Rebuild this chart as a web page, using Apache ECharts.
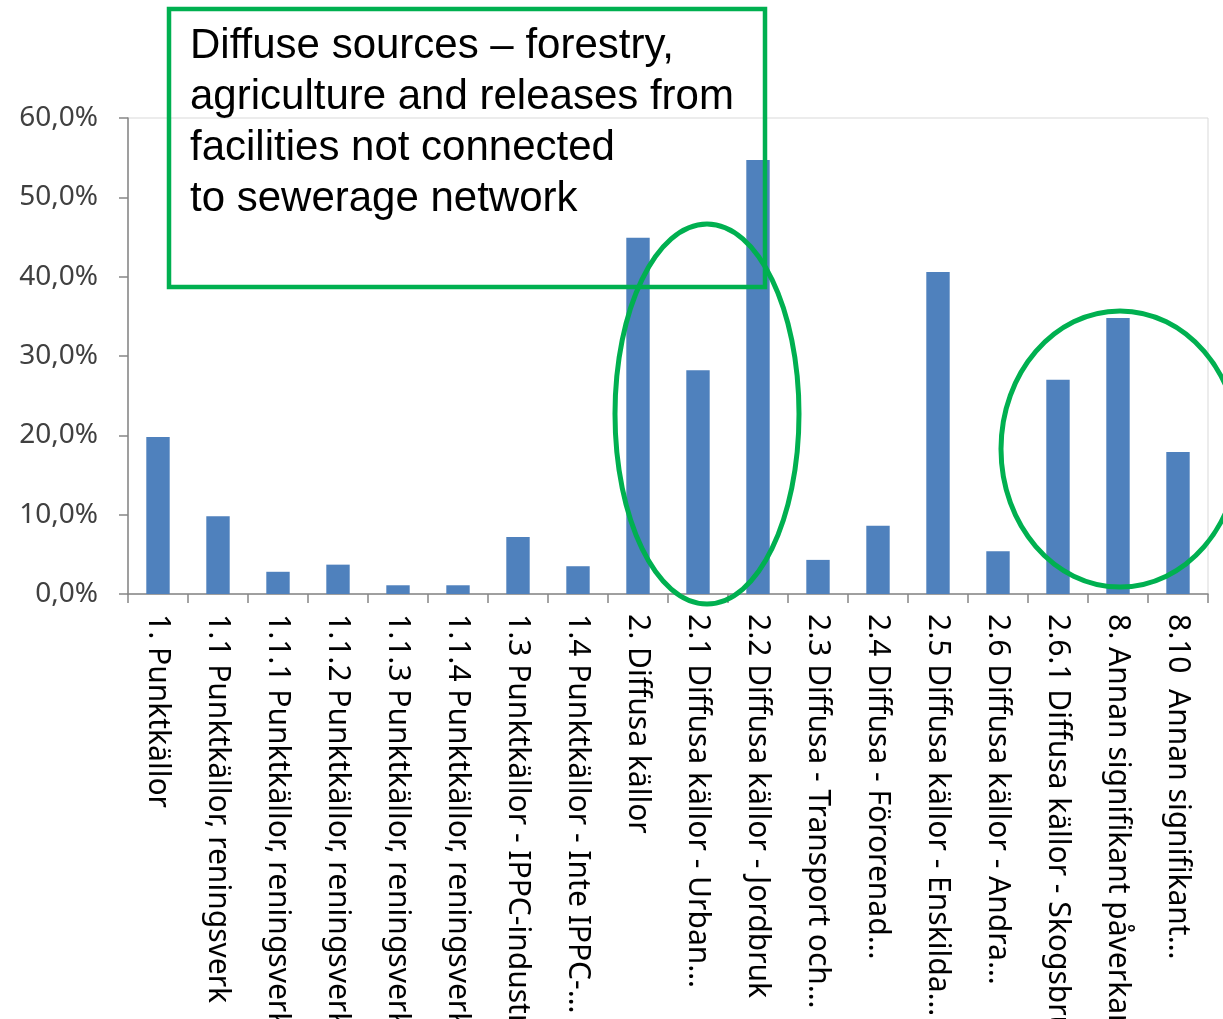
<!DOCTYPE html>
<html>
<head>
<meta charset="utf-8">
<script src="https://cdn.jsdelivr.net/npm/echarts@6/dist/echarts.min.js"></script>
<style>html,body{margin:0;padding:0;background:#fff}#c{width:1223px;height:1019px}</style>
</head>
<body>
<div id="c"></div>
<script>
var categories = [
  "1. Punktkällor",
  "1.1 Punktkällor, reningsverk",
  "1.1.1 Punktkällor, reningsverk",
  "1.1.2 Punktkällor, reningsverk",
  "1.1.3 Punktkällor, reningsverk",
  "1.1.4 Punktkällor, reningsverk",
  "1.3 Punktkällor - IPPC-industri",
  "1.4 Punktkällor - Inte IPPC-…",
  "2. Diffusa källor",
  "2.1 Diffusa källor - Urban…",
  "2.2 Diffusa källor - Jordbruk",
  "2.3 Diffusa - Transport och…",
  "2.4 Diffusa - Förorenad…",
  "2.5 Diffusa källor - Enskilda…",
  "2.6 Diffusa källor - Andra…",
  "2.6.1 Diffusa källor - Skogsbruk",
  "8. Annan signifikant påverkan",
  "8.10  Annan signifikant…"
];
var values = [19.8, 9.8, 2.8, 3.7, 1.1, 1.1, 7.2, 3.5, 44.9, 28.2, 54.7, 4.3, 8.6, 40.6, 5.4, 27.0, 34.8, 17.9];
var yTicks = [0, 10, 20, 30, 40, 50, 60];
var annotationText = "Diffuse sources \u2013 forestry,\nagriculture and releases from\nfacilities not connected\nto sewerage network";

var chart = echarts.init(document.getElementById('c'));
chart.setOption({
  animation: false,
  grid: { left: 128, right: 15, top: 118, bottom: 425, show: true, borderColor: '#d9d9d9', borderWidth: 1,
    containLabel: false, outerBoundsMode: 'none' },
  xAxis: {
    type: 'category',
    data: categories,
    boundaryGap: true,
    axisLine: { lineStyle: { color: '#868686', width: 1.5 } },
    axisTick: { show: true, length: 9, lineStyle: { color: '#868686', width: 1.5 } },
    axisLabel: { interval: 0, rotate: -90, color: '#000', fontFamily: 'Noto Sans', fontSize: 30, margin: 20, hideOverlap: false }
  },
  yAxis: {
    type: 'value',
    min: yTicks[0], max: yTicks[yTicks.length - 1], interval: 10,
    splitLine: { show: false },
    axisLine: { show: true, lineStyle: { color: '#868686', width: 1.5 } },
    axisTick: { show: true, length: 9, lineStyle: { color: '#868686', width: 1.5 } },
    axisLabel: { color: '#404040', fontFamily: 'Noto Sans', fontSize: 28, margin: 30,
      formatter: function (v) { return v.toFixed(1).replace('.', ',') + '%'; } }
  },
  series: [{
    type: 'bar',
    data: values,
    barWidth: '39%',
    itemStyle: { color: '#4F81BD' }
  }],
  graphic: [
    { type: 'rect', shape: { x: 169, y: 9, width: 596, height: 278 },
      style: { fill: null, stroke: '#00B050', lineWidth: 4.5 }, z: 100 },
    { type: 'text', left: 190, top: 21,
      style: { text: annotationText, font: '42px "Liberation Sans", Arial, sans-serif', fill: '#000', lineHeight: 51 }, z: 101 },
    { type: 'ellipse', shape: { cx: 707, cy: 414, rx: 92, ry: 190 },
      style: { fill: null, stroke: '#00B050', lineWidth: 5 }, z: 100 },
    { type: 'ellipse', shape: { cx: 1120, cy: 449, rx: 119, ry: 138 },
      style: { fill: null, stroke: '#00B050', lineWidth: 5 }, z: 100 }
  ]
});
</script>
</body>
</html>
